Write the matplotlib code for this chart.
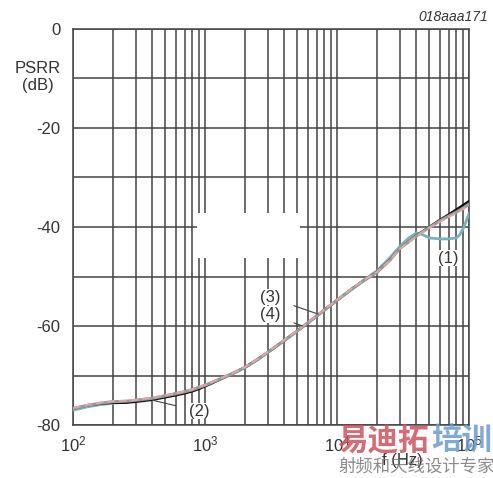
import matplotlib
matplotlib.use("Agg")
import numpy as np
import matplotlib.pyplot as plt
from matplotlib.patches import Rectangle

plt.rcParams['font.family'] = ['Liberation Sans', 'DejaVu Sans']
plt.rcParams['mathtext.fontset'] = 'custom'
plt.rcParams['mathtext.rm'] = 'Liberation Sans'
plt.rcParams['mathtext.it'] = 'Liberation Sans:italic'

# frequency axis (Hz) shared by curves (2), (3), (4)
freq = [100, 130, 160, 200, 250, 300, 400, 500, 600, 700, 800, 900, 1000,
        1300, 1600, 2000, 2500, 3000, 4000, 5000, 6000, 8000, 10000, 13000,
        16000, 20000, 25000, 30000, 40000, 50000, 60000, 70000, 80000,
        90000, 100000]

# PSRR (dB)
psrr_2 = [-76.7, -76.0, -75.7, -75.5, -75.5, -75.3, -74.9, -74.4, -74.0,
          -73.6, -73.2, -72.7, -72.2, -70.8, -69.7, -68.4, -66.8, -65.3,
          -62.9, -61.0, -59.4, -56.8, -54.8, -52.5, -50.8, -49.1, -46.7,
          -44.3, -41.7, -40.0, -38.6, -37.5, -36.5, -35.6, -34.8]
psrr_3 = [-76.7, -76.0, -75.6, -75.3, -75.2, -75.0, -74.6, -74.1, -73.7,
          -73.3, -72.9, -72.4, -72.0, -70.7, -69.7, -68.4, -66.8, -65.3,
          -62.9, -61.0, -59.4, -56.8, -54.8, -52.5, -50.8, -49.2, -46.8,
          -44.3, -41.8, -40.1, -38.8, -37.8, -37.0, -36.2, -35.4]
psrr_4 = [-76.6, -75.9, -75.5, -75.2, -75.1, -74.9, -74.5, -74.0, -73.6,
          -73.2, -72.8, -72.3, -71.9, -70.6, -69.6, -68.3, -66.7, -65.2,
          -62.8, -60.9, -59.3, -56.7, -54.7, -52.4, -50.7, -49.1, -46.8,
          -44.4, -41.9, -40.2, -39.0, -38.0, -37.2, -36.4, -35.6]

# curve (1) has a resonance near the top end
freq_1 = [100, 130, 160, 200, 250, 300, 400, 500, 700, 1000, 1300, 2000,
          3000, 5000, 8000, 10000, 16000, 20000, 25000, 30000, 35000, 40000,
          45000, 50000, 60000, 70000, 80000, 85000, 90000, 95000, 100000]
psrr_1 = [-77.0, -76.3, -75.9, -75.6, -75.4, -75.1, -74.6, -74.1, -73.3,
          -72.0, -70.7, -68.4, -65.3, -61.0, -56.8, -54.8, -50.7, -48.9,
          -46.3, -43.9, -42.2, -41.2, -41.6, -42.2, -42.4, -42.4, -42.2,
          -41.6, -40.4, -38.9, -37.3]

fig = plt.figure(figsize=(4.93, 4.78), dpi=100)
ax = fig.add_axes([73 / 493, 53 / 478, 396 / 493, 396 / 478])

ax.set_xscale('log')
ax.set_xlim(1e2, 1e5)
ax.set_ylim(-80, 0)

ax.set_yticks(np.arange(-80, 1, 10), minor=False)
ax.set_yticklabels(['-80', '', '-60', '', '-40', '', '-20', '', '0'])
ax.set_xticks([1e2, 1e3, 1e4, 1e5])
ax.set_xticklabels(['10$^2$', '10$^3$', '10$^4$', '10$^5$'])
ax.grid(True, which='both', axis='x', color='#444444', linewidth=1.1)
ax.grid(True, which='major', axis='y', color='#444444', linewidth=1.1)
ax.tick_params(which='both', length=0, labelsize=12, colors='#333333')
ax.tick_params(axis='y', pad=9)
ax.tick_params(axis='x', pad=7)
for s in ax.spines.values():
    s.set_color('#444444')
    s.set_linewidth(1.1)

ax.plot(freq_1, psrr_1, color='#74b4bb', lw=2.0, zorder=3)
ax.plot(freq, psrr_2, color='#111111', lw=1.8, zorder=4)
ax.plot(freq, psrr_3, color='#9a9a9a', lw=2.2, zorder=5)
ax.plot(freq, psrr_4, color='#e2a6a8', lw=1.4, ls=(0, (4, 2)), zorder=6)

# erased legend area
ax.add_patch(Rectangle((870, -46.3), 5200 - 870, 9.1, facecolor='white',
                       edgecolor='none', zorder=2.5))

lbl = dict(fontsize=12, color='#333333', ha='center', va='center', zorder=8,
           bbox=dict(facecolor='white', edgecolor='none', pad=0.5))
ax.annotate('(1)', xy=(7.0e4, -46.3), **lbl)
ax.annotate('(2)', xy=(400, -75.0), xytext=(900, -77.2),
            arrowprops=dict(arrowstyle='-', color='#444444', lw=0.8,
                            shrinkA=9, shrinkB=0), **lbl)
ax.annotate('(3)', xy=(7.2e3, -57.6), xytext=(3.1e3, -54.2),
            arrowprops=dict(arrowstyle='-', color='#444444', lw=0.8,
                            shrinkA=10, shrinkB=0), **lbl)
ax.annotate('(4)', xy=(5.5e3, -60.0), xytext=(3.1e3, -57.7),
            arrowprops=dict(arrowstyle='-', color='#444444', lw=0.8,
                            shrinkA=10, shrinkB=0), **lbl)

fig.text(38 / 493, 1 - 77 / 478, 'PSRR\n(dB)', fontsize=12, color='#333333',
         ha='center', va='center', linespacing=1.1)
fig.text(402 / 493, 1 - 460 / 478, 'f (Hz)', fontsize=12, color='#333333',
         ha='center', va='center')
fig.text(488 / 493, 1 - 17 / 478, '018aaa171', fontsize=10, color='#333333',
         ha='right', va='center', style='italic')

# watermark
cjk = ['Noto Sans CJK SC', 'DejaVu Sans']
fig.text(337 / 493, 1 - 441 / 478, '易迪拓', fontsize=22, color='#d0505a',
         alpha=0.85, family=cjk, ha='left', va='center', weight='bold')
fig.text(431 / 493, 1 - 441 / 478, '培训', fontsize=22, color='#6a9ad0',
         alpha=0.85, family=cjk, ha='left', va='center', weight='bold')
fig.text(338 / 493, 1 - 467 / 478, '射频和天线设计专家', fontsize=12.5,
         color='#777777', alpha=0.85, family=cjk, ha='left', va='center')

fig.savefig('out.png', dpi=100)
